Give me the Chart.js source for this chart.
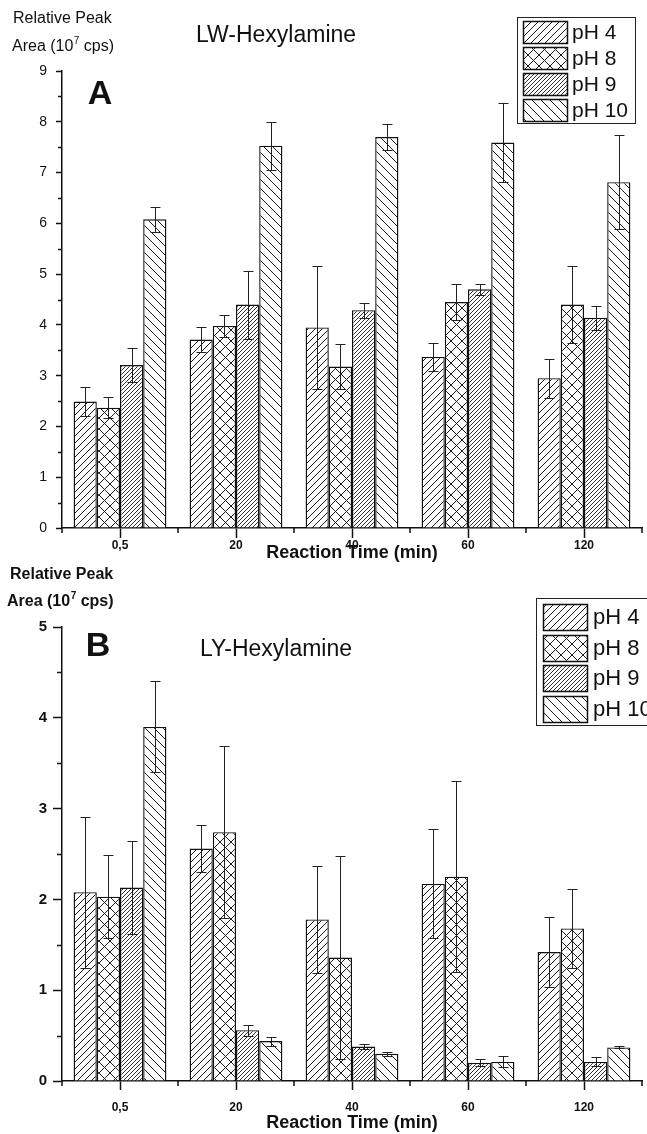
<!DOCTYPE html>
<html>
<head>
<meta charset="utf-8">
<title>Relative peak area vs reaction time</title>
<script src="https://cdn.jsdelivr.net/npm/chart.js@4.4.1/dist/chart.umd.min.js"></script>
<style>
  html, body { margin: 0; padding: 0; background: #fff; overflow: hidden; }
  .panel { position: absolute; left: 0; }
  #panelA { top: 0; }
  #panelB { top: 556px; }
</style>
</head>
<body>
<div class="panel" id="panelA"><canvas id="chartA" width="647" height="575"></canvas></div>
<div class="panel" id="panelB"><canvas id="chartB" width="647" height="578"></canvas></div>
<script>
// categories / series
const times = ['0,5', '20', '40', '60', '120'];
const phLabels = ['pH 4', 'pH 8', 'pH 9', 'pH 10'];
const xTitle = 'Reaction Time (min)';
const yTitleLine1 = 'Relative Peak';
const yTitleBase = 'Area (10';
const yTitleExp = '7';
const yTitleUnit = ' cps)';

// panel A - LW-Hexylamine
const lwPH4 = [2.49, 3.71, 3.95, 3.37, 2.95];
const lwPH8 = [2.37, 3.98, 3.18, 4.45, 4.40];
const lwPH9 = [3.21, 4.40, 4.29, 4.70, 4.14];
const lwPH10 = [6.08, 7.53, 7.70, 7.59, 6.81];
const lwErr4 = [0.28, 0.25, 1.21, 0.28, 0.38];
const lwErr8 = [0.21, 0.21, 0.45, 0.36, 0.76];
const lwErr9 = [0.33, 0.67, 0.15, 0.11, 0.24];
const lwErr10 = [0.25, 0.47, 0.25, 0.78, 0.92];

// panel B - LY-Hexylamine
const lyPH4 = [2.08, 2.56, 1.78, 2.17, 1.42];
const lyPH8 = [2.03, 2.74, 1.36, 2.25, 1.68];
const lyPH9 = [2.13, 0.56, 0.38, 0.20, 0.21];
const lyPH10 = [3.90, 0.44, 0.30, 0.21, 0.37];
const lyErr4 = [0.83, 0.26, 0.59, 0.60, 0.39];
const lyErr8 = [0.46, 0.95, 1.12, 1.05, 0.43];
const lyErr9 = [0.51, 0.06, 0.03, 0.04, 0.05];
const lyErr10 = [0.50, 0.05, 0.02, 0.06, 0.01];

const FONT = "'Liberation Sans', Arial, sans-serif";
const INK = '#111';

// hatch fills
function hatch(size, kinds, lw) {
  const c = document.createElement('canvas');
  c.width = c.height = size;
  const g = c.getContext('2d');
  g.fillStyle = '#fff';
  g.fillRect(0, 0, size, size);
  g.strokeStyle = '#1a1a1a';
  g.lineWidth = lw;
  g.beginPath();
  if (kinds.includes('/')) {
    g.moveTo(0, size); g.lineTo(size, 0);
    g.moveTo(-size / 2, size / 2); g.lineTo(size / 2, -size / 2);
    g.moveTo(size / 2, size * 1.5); g.lineTo(size * 1.5, size / 2);
  }
  if (kinds.includes('\\')) {
    g.moveTo(0, 0); g.lineTo(size, size);
    g.moveTo(size / 2, -size / 2); g.lineTo(size * 1.5, size / 2);
    g.moveTo(-size / 2, size / 2); g.lineTo(size / 2, size * 1.5);
  }
  g.stroke();
  return g.createPattern(c, 'repeat');
}

const patterns = [
  hatch(7, '/', 1),
  hatch(11, '/\\', 1),
  hatch(4, '/', 0.9),
  hatch(9, '\\', 1)
];

// error bars, minor ticks, labels, legend
const decorPlugin = {
  id: 'decor',
  afterDatasetsDraw(chart, args, o) {
    const ctx = chart.ctx;
    const ys = chart.scales.y;
    ctx.save();
    ctx.strokeStyle = '#222';
    ctx.lineWidth = 1;
    chart.data.datasets.forEach((ds, di) => {
      chart.getDatasetMeta(di).data.forEach((bar, i) => {
        const v = ds.data[i], e = ds.errors[i];
        const x = Math.round(bar.x) + 0.5;
        const y1 = Math.round(ys.getPixelForValue(v + e)) + 0.5;
        const y2 = Math.round(ys.getPixelForValue(v - e)) + 0.5;
        ctx.beginPath();
        ctx.moveTo(x, y1); ctx.lineTo(x, y2);
        ctx.moveTo(x - o.cap, y1); ctx.lineTo(x + o.cap, y1);
        ctx.moveTo(x - o.cap, y2); ctx.lineTo(x + o.cap, y2);
        ctx.stroke();
      });
    });
    ctx.restore();
  },
  afterDraw(chart, args, o) {
    const ctx = chart.ctx;
    const xs = chart.scales.x, ys = chart.scales.y;
    const area = chart.chartArea;
    ctx.save();
    ctx.strokeStyle = INK;
    ctx.lineWidth = 1.5;
    ctx.beginPath();
    for (let v = 0.5; v < ys.max; v += 1) {
      const y = Math.round(ys.getPixelForValue(v)) + 0.5;
      ctx.moveTo(area.left - o.yMinorLen, y); ctx.lineTo(area.left, y);
    }
    const cw = xs.width / times.length;
    for (let i = 0; i <= times.length; i++) {
      const x = Math.round(xs.left + i * cw);
      ctx.moveTo(x, area.bottom); ctx.lineTo(x, area.bottom + o.xMinorLen);
    }
    ctx.stroke();

    // axis caption, top left
    ctx.fillStyle = INK;
    ctx.textAlign = 'left';
    ctx.textBaseline = 'middle';
    const w = o.yTitleBold ? 'bold ' : '';
    ctx.font = w + o.yTitleSize + 'px ' + FONT;
    ctx.fillText(yTitleLine1, o.yTitle1[0], o.yTitle1[1]);
    let tx = o.yTitle2[0];
    const ty = o.yTitle2[1];
    ctx.fillText(yTitleBase, tx, ty);
    tx += ctx.measureText(yTitleBase).width + 0.5;
    ctx.font = w + Math.round(o.yTitleSize * 0.6) + 'px ' + FONT;
    ctx.fillText(yTitleExp, tx, ty - o.yTitleSize * 0.38);
    tx += ctx.measureText(yTitleExp).width;
    ctx.font = w + o.yTitleSize + 'px ' + FONT;
    ctx.fillText(yTitleUnit, tx, ty);

    // compound name and panel letter
    ctx.textAlign = 'center';
    ctx.font = o.nameSize + 'px ' + FONT;
    ctx.fillText(o.name, o.namePos[0], o.namePos[1]);
    ctx.font = 'bold ' + o.letterSize + 'px ' + FONT;
    ctx.fillText(o.letter, o.letterPos[0], o.letterPos[1]);

    // legend
    const L = o.legend;
    ctx.lineWidth = 1;
    ctx.strokeStyle = '#222';
    ctx.fillStyle = '#fff';
    ctx.fillRect(L.x, L.y, L.w, L.h);
    ctx.strokeRect(L.x + 0.5, L.y + 0.5, L.w, L.h);
    chart.data.datasets.forEach((ds, i) => {
      const sy = Math.round(L.sy + i * L.step);
      ctx.fillStyle = ds.backgroundColor;
      ctx.fillRect(L.sx, sy, L.sw, L.sh);
      ctx.lineWidth = 1.5;
      ctx.strokeStyle = INK;
      ctx.strokeRect(L.sx + 0.5, sy + 0.5, L.sw, L.sh);
      ctx.fillStyle = INK;
      ctx.textAlign = 'left';
      ctx.font = L.font + 'px ' + FONT;
      ctx.fillText(ds.label, L.tx, sy + L.sh / 2 + 1);
    });
    ctx.restore();
  }
};

function buildChart(id, series, errors, o) {
  const datasets = series.map((vals, i) => ({
    label: phLabels[i],
    data: vals,
    errors: errors[i],
    backgroundColor: patterns[i],
    borderColor: INK,
    borderWidth: 1.4,
    categoryPercentage: 0.8,
    barPercentage: 1.0
  }));
  return new Chart(document.getElementById(id), {
    type: 'bar',
    data: { labels: times, datasets },
    options: {
      responsive: false,
      animation: false,
      devicePixelRatio: 1,
      layout: { padding: { top: 71, left: 0, right: 5, bottom: 0 } },
      plugins: {
        legend: { display: false },
        tooltip: { enabled: false },
        decor: o
      },
      scales: {
        x: {
          grid: { display: true, drawOnChartArea: false, offset: false, tickLength: o.xTickLen, tickColor: INK, tickWidth: 1.5 },
          border: { display: true, color: INK, width: 1.5 },
          ticks: { color: INK, font: { family: FONT, size: 12, weight: 'bold' }, padding: o.xLabelPad, maxRotation: 0, autoSkip: false },
          title: { display: true, text: xTitle, color: INK, font: { family: FONT, size: o.xTitleSize, weight: 'bold' }, padding: { top: 0, bottom: o.xTitlePad } },
          afterFit: s => { s.height = o.xAxisHeight; }
        },
        y: {
          min: 0,
          max: o.yMax,
          ticks: { stepSize: 1, color: INK, font: { family: FONT, size: o.yTickSize, weight: o.yTickWeight }, padding: o.yLabelPad },
          grid: { display: true, drawOnChartArea: false, tickLength: o.yTickLen, tickColor: INK, tickWidth: 1.5 },
          border: { display: true, color: INK, width: 1.5 },
          afterFit: s => { s.width = 62; }
        }
      }
    },
    plugins: [decorPlugin]
  });
}

buildChart('chartA', [lwPH4, lwPH8, lwPH9, lwPH10], [lwErr4, lwErr8, lwErr9, lwErr10], {
  yMax: 9, yTickSize: 14, yTickWeight: 'normal', yTickLen: 6, yMinorLen: 4, yLabelPad: 9,
  xTickLen: 10, xMinorLen: 5, xLabelPad: 0, xAxisHeight: 47, xTitleSize: 18, xTitlePad: 11,
  cap: 5,
  yTitleSize: 16, yTitleBold: false, yTitle1: [13, 19], yTitle2: [12, 47],
  name: 'LW-Hexylamine', nameSize: 23, namePos: [276, 36],
  letter: 'A', letterSize: 34, letterPos: [100, 95],
  legend: { x: 517, y: 17, w: 118, h: 106, sx: 523, sy: 21, sw: 44, sh: 22, step: 26, tx: 572, font: 21 }
});

buildChart('chartB', [lyPH4, lyPH8, lyPH9, lyPH10], [lyErr4, lyErr8, lyErr9, lyErr10], {
  yMax: 5, yTickSize: 15, yTickWeight: 'bold', yTickLen: 9, yMinorLen: 5, yLabelPad: 6,
  xTickLen: 9, xMinorLen: 5, xLabelPad: 10, xAxisHeight: 53, xTitleSize: 18, xTitlePad: 0,
  cap: 5,
  yTitleSize: 16, yTitleBold: true, yTitle1: [10, 19], yTitle2: [7, 46],
  name: 'LY-Hexylamine', nameSize: 23, namePos: [276, 94],
  letter: 'B', letterSize: 34, letterPos: [98, 91],
  legend: { x: 536, y: 42, w: 120, h: 127, sx: 543, sy: 48, sw: 44, sh: 26, step: 30.7, tx: 593, font: 22 }
});
</script>
</body>
</html>
